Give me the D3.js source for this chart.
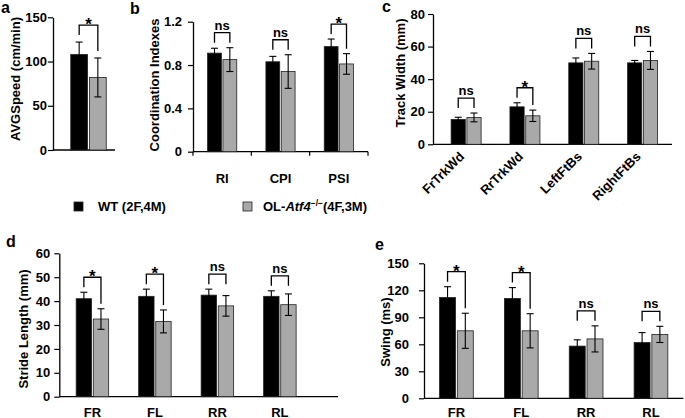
<!DOCTYPE html>
<html>
<head>
<meta charset="utf-8">
<script src="https://cdn.jsdelivr.net/npm/d3@7"></script>
<style>
  body { margin: 0; background: #fff; }
  svg text { font-family: "Liberation Sans", Arial, sans-serif; font-weight: bold; }
</style>
</head>
<body>
<svg width="685" height="418"></svg>
<script>
// panel a - average speed
var speedCats = [""];
var speedWT = [108], speedWTErr = [14];
var speedKO = [82], speedKOErr = [22];
var speedSig = ["*"];
var speedTicks = [0, 50, 100, 150];

// panel b - coordination
var coordCats = ["RI", "CPI", "PSI"];
var coordWT = [0.91, 0.83, 0.97], coordWTErr = [0.045, 0.05, 0.07];
var coordKO = [0.85, 0.74, 0.81], coordKOErr = [0.11, 0.155, 0.095];
var coordSig = ["ns", "ns", "*"];
var coordTicks = [0, 0.4, 0.8, 1.2];

// panel c - track width
var trackCats = ["FrTrkWd", "RrTrkWd", "LeftFtBs", "RightFtBs"];
var trackWT = [15.3, 23, 50, 50], trackWTErr = [1.3, 2.5, 3, 1.5];
var trackKO = [16.5, 17.5, 51, 51.5], trackKOErr = [2.7, 3.5, 4.8, 5.5];
var trackSig = ["ns", "*", "ns", "ns"];
var trackTicks = [0, 20, 40, 60, 80];

// panel d - stride length
var strideCats = ["FR", "FL", "RR", "RL"];
var strideWT = [41, 42, 42.5, 42], strideWTErr = [2.7, 3, 2.5, 2.3];
var strideKO = [32.5, 31.5, 38, 38.5], strideKOErr = [4.3, 4.8, 4.3, 4.5];
var strideSig = ["*", "*", "ns", "ns"];
var strideTicks = [0, 10, 20, 30, 40, 50, 60];

// panel e - swing
var swingCats = ["FR", "FL", "RR", "RL"];
var swingWT = [112, 111, 58, 62], swingWTErr = [12, 12, 7, 11];
var swingKO = [75, 75, 66, 71], swingKOErr = [19.5, 19, 14.5, 9];
var swingSig = ["*", "*", "ns", "ns"];
var swingTicks = [0, 30, 60, 90, 120, 150];

var groups = ["WT", "KO"];
var colors = { WT: "#000000", KO: "#a9a9a9" };
var fs = 13;

var svg = d3.select("svg");

var drawPanel = function(p)
{
  var g = svg.append("g");

  var x = d3.scaleBand()
            .domain(p.cats)
            .range([p.bandStart || p.left, p.bandEnd])
            .paddingInner(p.padIn)
            .paddingOuter(p.padIn / 2 + (p.padOutExtra || 0));
  var xi = d3.scaleBand()
             .domain(groups)
             .range([0, x.bandwidth()])
             .paddingInner(0.1);
  var y = d3.scaleLinear()
            .domain(p.domain)
            .range([p.bottom, p.top]);

  var rows = p.cats.map(function(c, i) {
    return {
      cat: c,
      bars: [
        { key: "WT", v: p.wt[i], e: p.wtErr[i] },
        { key: "KO", v: p.ko[i], e: p.koErr[i] }
      ],
      sig: p.sig[i]
    };
  });

  // y axis
  var yAxis = d3.axisLeft(y).tickValues(p.ticks).tickSize(5).tickSizeOuter(0)
                .tickFormat(d3.format("~g"));
  var ya = g.append("g").attr("transform", "translate(" + p.left + ",0)").call(yAxis);
  ya.select(".domain").attr("stroke-width", 1.3);
  ya.selectAll(".tick line").attr("stroke-width", 1.2);
  ya.selectAll(".tick text").attr("font-size", fs).attr("x", -p.tickPad)
    .style("font-family", "Liberation Sans, Arial, sans-serif").style("font-weight", "bold");

  // x axis line
  g.append("line")
   .attr("x1", p.left).attr("x2", p.axisEnd)
   .attr("y1", y(0)).attr("y2", y(0))
   .attr("stroke", "#000").attr("stroke-width", 1.3);

  if (p.catTicks) {
    d3.range(p.cats.length + 1).forEach(function(i) {
      var xx = p.left + i * x.step();
      g.append("line").attr("x1", xx).attr("x2", xx)
       .attr("y1", y(0)).attr("y2", y(0) + 4)
       .attr("stroke", "#000").attr("stroke-width", 1.2);
    });
  }

  var grp = g.selectAll(".grp").data(rows).enter().append("g")
             .attr("transform", function(d) { return "translate(" + x(d.cat) + ",0)"; });

  grp.selectAll("rect").data(function(d) { return d.bars; }).enter().append("rect")
     .attr("x", function(d) { return xi(d.key); })
     .attr("width", xi.bandwidth())
     .attr("y", function(d) { return y(d.v); })
     .attr("height", function(d) { return y(0) - y(d.v); })
     .attr("fill", function(d) { return colors[d.key]; })
     .attr("stroke", "#222").attr("stroke-width", 0.8);

  // error bars
  var eb = grp.selectAll(".err").data(function(d) { return d.bars; }).enter().append("g");
  var cx = function(d) { return xi(d.key) + xi.bandwidth() / 2; };
  eb.append("line")
    .attr("x1", cx).attr("x2", cx)
    .attr("y1", function(d) { return y(d.v - d.e); })
    .attr("y2", function(d) { return y(d.v + d.e); })
    .attr("stroke", "#000").attr("stroke-width", 1.1);
  [1, -1].forEach(function(s) {
    eb.append("line")
      .attr("x1", function(d) { return cx(d) - 3.5; })
      .attr("x2", function(d) { return cx(d) + 3.5; })
      .attr("y1", function(d) { return y(d.v + s * d.e); })
      .attr("y2", function(d) { return y(d.v + s * d.e); })
      .attr("stroke", "#000").attr("stroke-width", 1.1);
  });

  // significance brackets
  grp.each(function(d) {
    var gg = d3.select(this);
    var xa = cx(d.bars[0]), xb = cx(d.bars[1]);
    var ta = y(d.bars[0].v + d.bars[0].e) - p.gap;
    var tb = y(d.bars[1].v + d.bars[1].e) - p.gap;
    var top = Math.min(ta, tb) - 10;
    if (d.sig == "ns") { ta = tb = top + 10; }
    gg.append("path")
      .attr("d", "M" + xa + "," + ta + "V" + top + "H" + xb + "V" + tb)
      .attr("fill", "none").attr("stroke", "#000").attr("stroke-width", 1.3);
    gg.append("text")
      .attr("x", (xa + xb) / 2)
      .attr("y", d.sig == "ns" ? top - 3 : top + 5)
      .attr("text-anchor", "middle")
      .attr("font-size", d.sig == "ns" ? 13 : 17)
      .text(d.sig);
  });

  // category labels
  if (p.rotate) {
    g.selectAll(".xl").data(p.cats).enter().append("text")
     .attr("transform", function(c) {
       return "translate(" + (x(c) + x.bandwidth() / 2 - 1) + "," + (y(0) + 13) + ") rotate(-45)";
     })
     .attr("text-anchor", "end").attr("font-size", fs)
     .text(function(c) { return c; });
  } else {
    g.selectAll(".xl").data(p.cats).enter().append("text")
     .attr("x", function(c) { return x(c) + x.bandwidth() / 2; })
     .attr("y", y(0) + p.labelDy)
     .attr("text-anchor", "middle").attr("font-size", fs)
     .text(function(c) { return c; });
  }

  // y title
  g.append("text")
   .attr("transform", "translate(" + p.titleX + "," + p.titleY + ") rotate(-90)")
   .attr("text-anchor", "middle").attr("font-size", fs)
   .text(p.title);

  // panel letter
  svg.append("text").attr("x", p.letterX).attr("y", p.letterY)
     .attr("font-size", 16).text(p.letter);
};

drawPanel({ cats: speedCats, wt: speedWT, wtErr: speedWTErr, ko: speedKO, koErr: speedKOErr,
  sig: speedSig, ticks: speedTicks, domain: [0, 150], left: 53, bandEnd: 124, axisEnd: 115,
  padIn: 0.5, top: 17.3, bottom: 150, gap: 7, labelDy: 20, tickPad: 6,
  title: "AVGSpeed (cm/min)", titleX: 20, titleY: 79,
  letter: "a", letterX: 1, letterY: 13 });

drawPanel({ cats: coordCats, wt: coordWT, wtErr: coordWTErr, ko: coordKO, koErr: coordKOErr,
  sig: coordSig, ticks: coordTicks, domain: [0, 1.2], left: 193, bandEnd: 368, axisEnd: 368,
  padIn: 0.5, top: 21.7, bottom: 151.7, gap: 5, labelDy: 31.5, catTicks: true, tickPad: 11,
  title: "Coordination Indexes", titleX: 159, titleY: 85,
  letter: "b", letterX: 130, letterY: 14 });

drawPanel({ cats: trackCats, wt: trackWT, wtErr: trackWTErr, ko: trackKO, koErr: trackKOErr,
  sig: trackSig, ticks: trackTicks, domain: [0, 80], left: 433, bandStart: 436.7, bandEnd: 672,
  axisEnd: 672, padIn: 0.49, top: 14, bottom: 144.3, gap: 5, rotate: true, tickPad: 8,
  title: "Track Width (mm)", titleX: 405, titleY: 73,
  letter: "c", letterX: 382, letterY: 12 });

drawPanel({ cats: strideCats, wt: strideWT, wtErr: strideWTErr, ko: strideKO, koErr: strideKOErr,
  sig: strideSig, ticks: strideTicks, domain: [0, 60], left: 59.3, bandEnd: 313, axisEnd: 338,
  padIn: 0.48, padOutExtra: 0.03, top: 253.3, bottom: 396.7, gap: 5, labelDy: 20, tickPad: 9,
  title: "Stride Length (mm)", titleX: 28, titleY: 329,
  letter: "d", letterX: 6, letterY: 247 });

drawPanel({ cats: swingCats, wt: swingWT, wtErr: swingWTErr, ko: swingKO, koErr: swingKOErr,
  sig: swingSig, ticks: swingTicks, domain: [0, 150], left: 424, bandEnd: 683.4, axisEnd: 683.4,
  padIn: 0.48, top: 263.3, bottom: 398.3, gap: 5, labelDy: 18.5, tickPad: 15,
  title: "Swing (ms)", titleX: 390, titleY: 332,
  letter: "e", letterX: 375, letterY: 250 });

// legend
var legend = svg.append("g");
legend.append("rect").attr("x", 74).attr("y", 202).attr("width", 9).attr("height", 9)
      .attr("fill", colors.WT).attr("stroke", "#222").attr("stroke-width", 0.8);
legend.append("text").attr("x", 98).attr("y", 211).attr("font-size", fs).text("WT (2F,4M)");
legend.append("rect").attr("x", 243).attr("y", 202).attr("width", 9).attr("height", 9)
      .attr("fill", colors.KO).attr("stroke", "#222").attr("stroke-width", 0.8);
var lt = legend.append("text").attr("x", 263).attr("y", 211).attr("font-size", fs);
lt.append("tspan").text("OL-");
lt.append("tspan").style("font-style", "italic").text("Atf4");
lt.append("tspan").attr("dy", -5).attr("font-size", 8.5).text("\u2212/\u2212");
lt.append("tspan").attr("dy", 5).text("(4F,3M)");
</script>
</body>
</html>
